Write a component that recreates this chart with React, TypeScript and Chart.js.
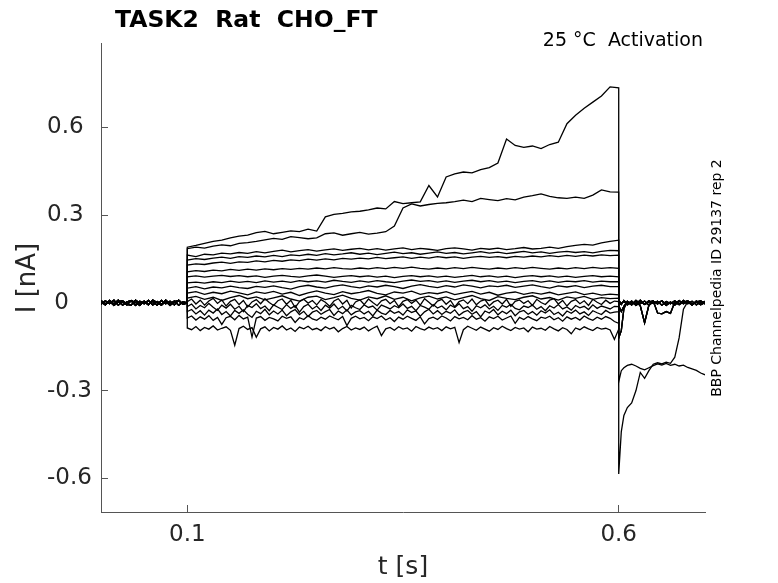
import { useEffect, useRef } from "react"
import { Chart, registerables } from "chart.js"

Chart.register(...registerables)

const titleText = "TASK2  Rat  CHO_FT"
const conditionText = "25 °C  Activation"
const sourceText = "BBP Channelpedia ID 29137 rep 2"
const xTitle = "t [s]"
const yTitle = "I [nA]"

const xTicks = [0.1, 0.6]
const xTickLabels = ["0.1", "0.6"]
const yTicks = [-0.6, -0.3, 0, 0.3, 0.6]
const yTickLabels = ["-0.6", "-0.3", "0", "0.3", "0.6"]

// holding period before the step (s)
const preTimes = [
  0, 0.005, 0.01, 0.015, 0.02, 0.025, 0.03, 0.035, 0.04, 0.045,
  0.05, 0.055, 0.06, 0.065, 0.07, 0.075, 0.08, 0.085, 0.09, 0.095, 0.1,
]
const baseline1 = [
  0.004, -0.007, 0.008, -0.004, 0.009, -0.008, 0.003, 0.007, -0.009, 0.005,
  -0.003, 0.008, -0.007, 0.004, -0.005, 0.009, -0.004, 0.006, -0.008, 0.003, 0,
]
const baseline2 = [
  -0.005, 0.007, -0.003, 0.009, -0.008, 0.004, -0.007, 0.008, 0.001, -0.009,
  0.006, -0.004, 0.005, -0.008, 0.008, -0.003, 0.005, -0.007, 0.009, -0.004, 0.001,
]
const baseline3 = [
  0.008, -0.004, 0.005, -0.009, 0.003, 0.007, -0.005, -0.008, 0.009, -0.002,
  0.004, -0.007, 0.009, 0.001, -0.008, 0.005, -0.009, 0.004, 0.007, -0.005, -0.001,
]

// voltage step (s), coarse sampling for the quieter sweeps
const stepTimes = [
  0.1, 0.11, 0.12, 0.13, 0.14, 0.15, 0.16, 0.17, 0.18, 0.19,
  0.2, 0.21, 0.22, 0.23, 0.24, 0.25, 0.26, 0.27, 0.28, 0.29,
  0.3, 0.31, 0.32, 0.33, 0.34, 0.35, 0.36, 0.37, 0.38, 0.39,
  0.4, 0.41, 0.42, 0.43, 0.44, 0.45, 0.46, 0.47, 0.48, 0.49,
  0.5, 0.51, 0.52, 0.53, 0.54, 0.55, 0.56, 0.57, 0.58, 0.59,
  0.6,
]
// finer sampling for the noisy sweeps near and below zero
const stepTimesFine = [
  0.1, 0.105, 0.11, 0.115, 0.12, 0.125, 0.13, 0.135, 0.14, 0.145,
  0.15, 0.155, 0.16, 0.165, 0.17, 0.175, 0.18, 0.185, 0.19, 0.195,
  0.2, 0.205, 0.21, 0.215, 0.22, 0.225, 0.23, 0.235, 0.24, 0.245,
  0.25, 0.255, 0.26, 0.265, 0.27, 0.275, 0.28, 0.285, 0.29, 0.295,
  0.3, 0.305, 0.31, 0.315, 0.32, 0.325, 0.33, 0.335, 0.34, 0.345,
  0.35, 0.355, 0.36, 0.365, 0.37, 0.375, 0.38, 0.385, 0.39, 0.395,
  0.4, 0.405, 0.41, 0.415, 0.42, 0.425, 0.43, 0.435, 0.44, 0.445,
  0.45, 0.455, 0.46, 0.465, 0.47, 0.475, 0.48, 0.485, 0.49, 0.495,
  0.5, 0.505, 0.51, 0.515, 0.52, 0.525, 0.53, 0.535, 0.54, 0.545,
  0.55, 0.555, 0.56, 0.565, 0.57, 0.575, 0.58, 0.585, 0.59, 0.595,
  0.6,
]

const sweep01 = [
  0.19, 0.196, 0.203, 0.21, 0.214, 0.222, 0.228, 0.231, 0.24, 0.244,
  0.236, 0.241, 0.246, 0.243, 0.252, 0.245, 0.294, 0.302, 0.306, 0.311,
  0.313, 0.318, 0.324, 0.321, 0.346, 0.339, 0.342, 0.345, 0.401, 0.362,
  0.43, 0.441, 0.447, 0.444, 0.455, 0.462, 0.478, 0.56, 0.538, 0.531,
  0.536, 0.527, 0.541, 0.549, 0.612, 0.641, 0.665, 0.686, 0.707, 0.738,
  0.735,
]
const sweep02 = [
  0.185, 0.19, 0.187, 0.194, 0.198, 0.195, 0.203, 0.206, 0.21, 0.215,
  0.22, 0.217, 0.226, 0.223, 0.219, 0.222, 0.236, 0.239, 0.231, 0.236,
  0.241, 0.235, 0.238, 0.243, 0.262, 0.324, 0.338, 0.331, 0.336, 0.34,
  0.342, 0.346, 0.351, 0.346, 0.357, 0.353, 0.349, 0.356, 0.352, 0.361,
  0.366, 0.372, 0.364, 0.359, 0.357, 0.361, 0.357, 0.368, 0.386, 0.379,
  0.378,
]
const sweep03 = [
  0.163, 0.158, 0.166, 0.164, 0.17, 0.167, 0.172, 0.169, 0.175, 0.171,
  0.176, 0.18, 0.174, 0.178, 0.182, 0.177, 0.181, 0.184, 0.179, 0.183,
  0.186, 0.181, 0.185, 0.18, 0.184, 0.188, 0.182, 0.186, 0.183, 0.179,
  0.185, 0.188, 0.184, 0.18, 0.186, 0.183, 0.187, 0.182, 0.185, 0.189,
  0.184, 0.186, 0.19, 0.186, 0.192, 0.196, 0.2, 0.197, 0.205, 0.21,
  0.214,
]
const sweep04 = [
  0.146, 0.151, 0.148, 0.153, 0.156, 0.152, 0.158, 0.155, 0.16, 0.157,
  0.162, 0.158, 0.164, 0.161, 0.166, 0.162, 0.168, 0.164, 0.167, 0.171,
  0.166, 0.17, 0.165, 0.169, 0.173, 0.168, 0.171, 0.166, 0.17, 0.174,
  0.169, 0.172, 0.167, 0.171, 0.175, 0.17, 0.173, 0.168, 0.172, 0.176,
  0.171, 0.174, 0.169, 0.173, 0.176, 0.172, 0.175, 0.171, 0.176, 0.179,
  0.178,
]
const sweep05 = [
  0.129, 0.133, 0.131, 0.136, 0.139, 0.135, 0.14, 0.138, 0.143, 0.14,
  0.145, 0.142, 0.147, 0.144, 0.149, 0.146, 0.15, 0.147, 0.152, 0.149,
  0.153, 0.15, 0.155, 0.151, 0.154, 0.157, 0.152, 0.156, 0.153, 0.158,
  0.154, 0.157, 0.152, 0.156, 0.159, 0.155, 0.158, 0.154, 0.159, 0.156,
  0.16, 0.157, 0.161, 0.158, 0.162, 0.159, 0.163, 0.16, 0.164, 0.161,
  0.163,
]
const sweep06 = [
  0.106, 0.11, 0.107, 0.112, 0.109, 0.114, 0.111, 0.115, 0.112, 0.116,
  0.113, 0.117, 0.114, 0.118, 0.115, 0.119, 0.116, 0.12, 0.117, 0.115,
  0.119, 0.116, 0.12, 0.117, 0.121, 0.118, 0.122, 0.118, 0.115, 0.119,
  0.116, 0.12, 0.117, 0.121, 0.118, 0.115, 0.119, 0.116, 0.12, 0.117,
  0.121, 0.118, 0.115, 0.119, 0.116, 0.12, 0.117, 0.121, 0.118, 0.12,
  0.118,
]
const sweep07 = [
  0.089, 0.092, 0.088, 0.091, 0.094, 0.09, 0.093, 0.089, 0.092, 0.087,
  0.091, 0.094, 0.09, 0.088, 0.092, 0.095, 0.091, 0.087, 0.09, 0.093,
  0.089, 0.092, 0.088, 0.091, 0.086, 0.09, 0.093, 0.089, 0.092, 0.088,
  0.091, 0.087, 0.09, 0.094, 0.089, 0.092, 0.088, 0.091, 0.086, 0.09,
  0.093, 0.089, 0.092, 0.088, 0.091, 0.087, 0.09, 0.093, 0.089, 0.091,
  0.089,
]
const sweep08 = [
  0.068, 0.071, 0.067, 0.072, 0.069, 0.074, 0.07, 0.073, 0.069, 0.075,
  0.071, 0.074, 0.07, 0.076, 0.072, 0.075, 0.071, 0.077, 0.073, 0.07,
  0.075, 0.071, 0.076, 0.072, 0.069, 0.074, 0.078, 0.073, 0.076, 0.071,
  0.075, 0.07, 0.074, 0.077, 0.072, 0.076, 0.071, 0.074, 0.069, 0.073,
  0.076, 0.071, 0.075, 0.07, 0.074, 0.072, 0.076, 0.071, 0.074, 0.072,
  0.072,
]
const sweep09 = [
  0.05, 0.055, 0.048, 0.054, 0.051, 0.057, 0.052, 0.049, 0.056, 0.053,
  0.058, 0.052, 0.047, 0.055, 0.06, 0.054, 0.05, 0.057, 0.061, 0.055,
  0.051, 0.058, 0.054, 0.06, 0.055, 0.049, 0.057, 0.062, 0.056, 0.052,
  0.059, 0.054, 0.061, 0.057, 0.051, 0.058, 0.055, 0.06, 0.053, 0.057,
  0.061, 0.055, 0.05, 0.058, 0.054, 0.059, 0.052, 0.057, 0.06, 0.055,
  0.055,
]
const sweep10 = [
  0.033, 0.038, 0.029, 0.036, 0.031, 0.04, 0.034, 0.027, 0.037, 0.032,
  0.039, 0.03, 0.036, 0.025, 0.034, 0.041, 0.033, 0.028, 0.038, 0.031,
  0.036, 0.042, 0.032, 0.027, 0.037, 0.033, 0.04, 0.029, 0.035, 0.031,
  0.038, 0.028, 0.034, 0.039, 0.03, 0.036, 0.026, 0.033, 0.037, 0.029,
  0.035, 0.03, 0.036, 0.027, 0.032, 0.037, 0.028, 0.033, 0.026, 0.03,
  0.027,
]
const sweep11 = [
  0.016, 0.022, 0.012, 0.019, 0.008, 0.018, 0.025, 0.014, 0.02, 0.01,
  0.017, 0.024, 0.013, 0.006, 0.019, 0.023, 0.011, 0.018, 0.026, 0.015,
  0.009, 0.02, 0.014, 0.024, 0.012, 0.019, 0.007, 0.017, 0.023, 0.013,
  0.02, 0.01, 0.018, 0.025, 0.014, 0.008, 0.021, 0.015, 0.011, 0.019,
  0.024, 0.013, 0.018, 0.009, 0.02, 0.015, 0.022, 0.012, 0.018, 0.014,
  0.016,
]
const sweep12 = [
  0.004, 0.013, -0.004, 0.009, -0.008, 0.006, 0.015, -0.002, 0.01, -0.011,
  0.005, 0.012, -0.006, 0.008, -0.014, 0.003, 0.011, -0.003, 0.014, 0.001,
  -0.009, 0.007, 0.013, -0.005, 0.009, -0.016, 0.004, 0.012, -0.001, 0.008,
  -0.007, 0.011, 0.002, -0.012, 0.006, 0.014, -0.004, 0.009, -0.018, 0.003,
  0.01, -0.006, 0.013, 0.001, -0.01, 0.007, 0.012, -0.003, 0.008, -0.013,
  0.005, 0.011, -0.002, 0.009, -0.008, 0.014, 0.002, -0.011, 0.006, 0.012,
  -0.005, 0.008, -0.014, 0.004, 0.01, -0.003, 0.013, -0.007, 0.006, 0.011,
  -0.01, 0.003, 0.009, -0.004, 0.012, -0.012, 0.005, 0.01, -0.002, 0.007,
  -0.009, 0.012, 0.001, -0.006, 0.009, 0.014, -0.004, 0.008, -0.011, 0.005,
  0.011, -0.003, 0.007, -0.009, 0.012, 0.002, -0.006, 0.009, -0.002, 0.006,
  0.004,
]
const sweep13 = [
  -0.013, -0.004, -0.021, -0.009, -0.017, -0.002, -0.015, -0.026, -0.008, -0.018,
  -0.005, -0.022, -0.012, -0.03, -0.009, -0.016, -0.003, -0.02, -0.011, -0.027,
  -0.007, -0.015, -0.023, -0.006, -0.019, -0.01, -0.032, -0.013, -0.005, -0.021,
  -0.011, -0.026, -0.008, -0.018, -0.004, -0.022, -0.012, -0.028, -0.009, -0.017,
  -0.023, -0.007, -0.016, -0.011, -0.025, -0.008, -0.014, -0.021, -0.01, -0.017,
  -0.004, -0.019, -0.012, -0.027, -0.009, -0.015, -0.022, -0.006, -0.018, -0.011,
  -0.024, -0.008, -0.016, -0.003, -0.02, -0.013, -0.029, -0.01, -0.017, -0.007,
  -0.021, -0.012, -0.026, -0.009, -0.015, -0.005, -0.019, -0.024, -0.011, -0.016,
  -0.008, -0.022, -0.013, -0.027, -0.01, -0.018, -0.006, -0.021, -0.014, -0.025,
  -0.009, -0.017, -0.012, -0.023, -0.007, -0.019, -0.011, -0.016, -0.021, -0.012,
  -0.013,
]
const sweep14 = [
  -0.03, -0.023, -0.038, -0.027, -0.042, -0.025, -0.035, -0.021, -0.04, -0.03,
  -0.045, -0.026, -0.036, -0.024, -0.039, -0.05, -0.029, -0.037, -0.022, -0.041,
  -0.028, -0.038, -0.025, -0.044, -0.031, -0.023, -0.04, -0.029, -0.047, -0.032,
  -0.026, -0.039, -0.03, -0.023, -0.043, -0.028, -0.037, -0.024, -0.041, -0.031,
  -0.027, -0.038, -0.029, -0.045, -0.025, -0.035, -0.04, -0.026, -0.036, -0.03,
  -0.042, -0.024, -0.033, -0.028, -0.046, -0.031, -0.022, -0.038, -0.027, -0.04,
  -0.029, -0.036, -0.024, -0.043, -0.032, -0.026, -0.039, -0.03, -0.048, -0.028,
  -0.035, -0.023, -0.041, -0.029, -0.037, -0.025, -0.044, -0.031, -0.026, -0.039,
  -0.03, -0.042, -0.027, -0.035, -0.024, -0.04, -0.032, -0.045, -0.028, -0.036,
  -0.025, -0.038, -0.031, -0.043, -0.027, -0.034, -0.04, -0.026, -0.035, -0.032,
  -0.03,
]
const sweep15 = [
  -0.052, -0.045, -0.059, -0.048, -0.056, -0.044, -0.06, -0.05, -0.074, -0.051,
  -0.046, -0.058, -0.043, -0.055, -0.049, -0.117, -0.052, -0.047, -0.06, -0.05,
  -0.055, -0.062, -0.046, -0.053, -0.048, -0.067, -0.051, -0.057, -0.044, -0.055,
  -0.06, -0.049, -0.056, -0.045, -0.052, -0.058, -0.047, -0.078, -0.053, -0.046,
  -0.055, -0.05, -0.061, -0.048, -0.054, -0.045, -0.059, -0.051, -0.064, -0.049,
  -0.056, -0.046, -0.053, -0.06, -0.048, -0.072, -0.054, -0.049, -0.057, -0.045,
  -0.052, -0.062, -0.047, -0.055, -0.05, -0.058, -0.044, -0.056, -0.051, -0.063,
  -0.048, -0.054, -0.046, -0.059, -0.052, -0.045, -0.07, -0.05, -0.057, -0.047,
  -0.055, -0.061, -0.049, -0.053, -0.046, -0.058, -0.051, -0.063, -0.048, -0.056,
  -0.05, -0.059, -0.045, -0.054, -0.06, -0.049, -0.056, -0.047, -0.053, -0.064,
  -0.07,
]
const sweep16 = [
  -0.086, -0.092, -0.081, -0.095, -0.084, -0.09, -0.079, -0.093, -0.087, -0.082,
  -0.094, -0.145, -0.088, -0.08, -0.091, -0.085, -0.118, -0.089, -0.082, -0.096,
  -0.084, -0.09, -0.079, -0.093, -0.086, -0.098, -0.083, -0.089, -0.08, -0.092,
  -0.087, -0.095, -0.082, -0.09, -0.084, -0.099, -0.088, -0.081, -0.093, -0.086,
  -0.091, -0.083, -0.096, -0.087, -0.08, -0.112, -0.089, -0.084, -0.094, -0.082,
  -0.09, -0.086, -0.097, -0.081, -0.088, -0.093, -0.083, -0.09, -0.085, -0.095,
  -0.082, -0.089, -0.084, -0.136, -0.092, -0.08, -0.087, -0.094, -0.083, -0.09,
  -0.097, -0.085, -0.091, -0.08, -0.088, -0.095, -0.084, -0.09, -0.086, -0.099,
  -0.083, -0.09, -0.087, -0.094, -0.081, -0.089, -0.096, -0.085, -0.091, -0.106,
  -0.086, -0.092, -0.082, -0.089, -0.095, -0.084, -0.09, -0.087, -0.093, -0.125,
  -0.09,
]

// tail currents after the step (s)
const postTimes = [
  0.6, 0.603, 0.606, 0.61, 0.615, 0.62, 0.625, 0.63, 0.635, 0.64, 0.645,
  0.65, 0.655, 0.66, 0.665, 0.67, 0.675, 0.68, 0.685, 0.69, 0.695, 0.7,
]
const tailDeep = [
  -0.585, -0.44, -0.385, -0.358, -0.342, -0.3, -0.238, -0.258, -0.232, -0.21, -0.205,
  -0.209, -0.203, -0.207, -0.186, -0.12, -0.022, 0.004, -0.005, 0.006, -0.003, 0.002,
]
const tailHold = [
  -0.27, -0.232, -0.222, -0.214, -0.21, -0.216, -0.224, -0.229, -0.222, -0.215, -0.209,
  -0.213, -0.207, -0.214, -0.21, -0.216, -0.213, -0.221, -0.226, -0.231, -0.24, -0.246,
]
const tailFlat1 = [
  0.002, -0.006, 0.008, -0.004, 0.006, -0.009, 0.003, -0.005, 0.007, -0.002, 0.005,
  -0.008, 0.004, -0.003, 0.007, -0.006, 0.002, 0.006, -0.004, 0.003, -0.007, 0.001,
]
const tailFlat2 = [
  -0.01, -0.03, -0.012, 0.004, -0.007, 0.005, -0.01, -0.068, -0.008, 0.006, -0.004,
  0.007, -0.009, 0.002, -0.005, 0.008, -0.003, 0.004, -0.008, 0.006, -0.002, 0.005,
]
const tailFlat3 = [
  0.008, -0.002, 0.005, -0.007, 0.003, -0.004, 0.009, -0.006, 0.002, 0.007, -0.035,
  -0.038, -0.03, -0.036, 0.003, -0.006, 0.008, -0.003, 0.005, -0.007, 0.004, -0.004,
]
const tailFlat4 = [
  -0.12, -0.095, -0.02, 0.005, -0.006, 0.008, -0.003, 0.006, -0.009, 0.004, -0.002,
  0.007, -0.005, 0.003, -0.008, 0.005, -0.001, 0.006, -0.006, 0.002, 0.007, -0.003,
]

const sweeps = [
  sweep01, sweep02, sweep03, sweep04, sweep05, sweep06, sweep07, sweep08,
  sweep09, sweep10, sweep11, sweep12, sweep13, sweep14, sweep15, sweep16,
]
const baselines = [baseline1, baseline2, baseline3]
const sweepTails = [
  tailDeep, tailHold, tailFlat4, tailFlat2, tailFlat3, tailFlat1, tailFlat2, tailFlat4,
  tailFlat1, tailFlat3, tailFlat2, tailFlat1, tailFlat4, tailFlat3, tailFlat2, tailFlat1,
]

const AXIS_COLOR = "#555555"
const TEXT_COLOR = "#262626"
const FONT = "DejaVu Sans"

// title, condition, axis label and source note
const figureText = {
  id: "figureText",
  afterDraw(chart: Chart) {
    const ctx = chart.ctx
    ctx.save()
    ctx.fillStyle = "#000000"
    ctx.textBaseline = "alphabetic"
    ctx.textAlign = "left"
    ctx.font = `bold 23.5px "${FONT}"`
    ctx.fillText(titleText, 115, 27)

    ctx.font = `19px "${FONT}"`
    ctx.textAlign = "right"
    ctx.fillText(conditionText, 703, 46)

    ctx.fillStyle = TEXT_COLOR
    ctx.textAlign = "center"
    ctx.textBaseline = "middle"
    ctx.save()
    ctx.translate(28, 278)
    ctx.rotate(-Math.PI / 2)
    ctx.font = `26px "${FONT}"`
    ctx.fillText(yTitle, 0, 0)
    ctx.restore()

    ctx.save()
    ctx.translate(717, 278)
    ctx.rotate(-Math.PI / 2)
    ctx.fillStyle = "#000000"
    ctx.font = `14px "${FONT}"`
    ctx.fillText(sourceText, 0, 0)
    ctx.restore()
    ctx.restore()
  },
}

export default function App() {
  const canvasRef = useRef<HTMLCanvasElement>(null)

  useEffect(() => {
    document.body.style.margin = "0"
    if (!canvasRef.current) return

    const datasets = sweeps.map((sweep, i) => {
      const base = baselines[i % baselines.length]
      const tail = sweepTails[i]
      const times = sweep.length === stepTimesFine.length ? stepTimesFine : stepTimes
      const points = [
        ...preTimes.map((t, j) => ({ x: t, y: base[j] })),
        ...times.map((t, j) => ({ x: t, y: sweep[j] })),
        ...postTimes.map((t, j) => ({ x: t, y: tail[j] })),
      ]
      return {
        label: `sweep ${i + 1}`,
        data: points,
        borderColor: "#000000",
        borderWidth: 1.3,
        pointRadius: 0,
        tension: 0,
        fill: false,
      }
    })

    const chart = new Chart(canvasRef.current, {
      type: "line",
      data: { datasets },
      options: {
        animation: false,
        responsive: false,
        events: [],
        layout: { padding: { top: 43, right: 73, left: 47, bottom: 0 } },
        plugins: {
          legend: { display: false },
          tooltip: { enabled: false },
        },
        scales: {
          x: {
            type: "linear",
            min: 0,
            max: 0.7,
            afterBuildTicks: (scale: any) => {
              scale.ticks = xTicks.map((v) => ({ value: v }))
            },
            afterFit: (scale: any) => {
              scale.height = 71
            },
            grid: {
              drawOnChartArea: false,
              drawTicks: true,
              tickLength: -7,
              color: AXIS_COLOR,
            },
            border: { display: true, color: AXIS_COLOR, width: 1 },
            ticks: {
              autoSkip: false,
              maxRotation: 0,
              padding: 16,
              color: TEXT_COLOR,
              font: { family: FONT, size: 23 },
              callback: (v: any) => xTickLabels[xTicks.indexOf(Number(v))] ?? "",
            },
            title: {
              display: true,
              text: xTitle,
              color: TEXT_COLOR,
              font: { family: FONT, size: 25 },
              padding: { top: 0, bottom: 1 },
            },
          },
          y: {
            type: "linear",
            min: -0.715,
            max: 0.888,
            afterBuildTicks: (scale: any) => {
              scale.ticks = yTicks.map((v) => ({ value: v }))
            },
            afterFit: (scale: any) => {
              scale.width = 54
            },
            grid: {
              drawOnChartArea: false,
              drawTicks: true,
              tickLength: -7,
              color: AXIS_COLOR,
            },
            border: { display: true, color: AXIS_COLOR, width: 1 },
            ticks: {
              autoSkip: false,
              crossAlign: "far",
              padding: 4,
              color: TEXT_COLOR,
              font: { family: FONT, size: 23 },
              callback: (v: any) => {
                const label = yTickLabels[yTicks.indexOf(Number(v))] ?? ""
                // the lone zero sits a little further in, as in the source figure
                return label.length === 1 ? " " + label : label
              },
            },
          },
        },
      },
      plugins: [figureText],
    })

    return () => chart.destroy()
  }, [])

  return (
    <div style={{ width: 778, height: 583 }}>
      <canvas ref={canvasRef} width={778} height={583} style={{ display: "block" }} />
    </div>
  )
}
